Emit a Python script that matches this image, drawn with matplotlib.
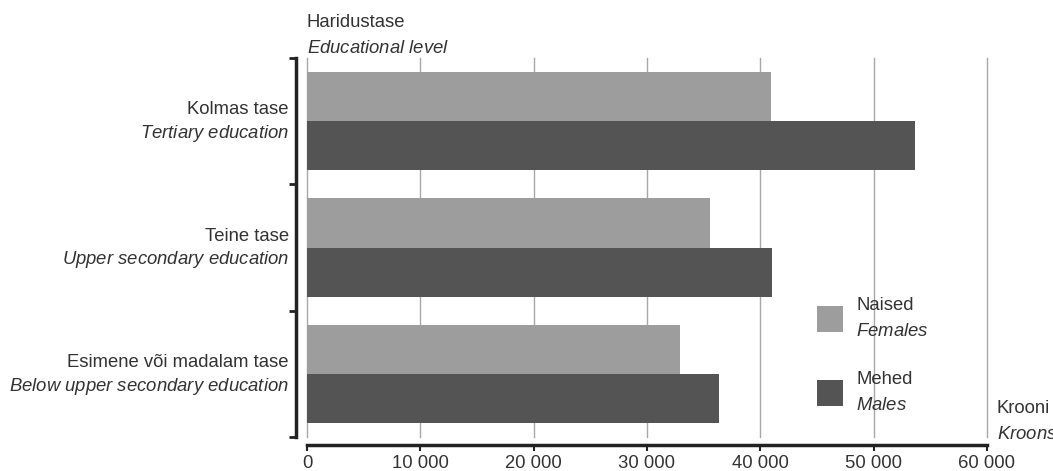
import matplotlib
matplotlib.use("Agg")
import matplotlib.pyplot as plt
from matplotlib.patches import Patch
from matplotlib.ticker import FuncFormatter, FixedLocator
import matplotlib.transforms as mtrans
import numpy as np

plt.rcParams['font.family'] = ['Liberation Sans', 'DejaVu Sans']
plt.rcParams['mathtext.fontset'] = 'custom'
plt.rcParams['mathtext.rm'] = 'Liberation Sans'
plt.rcParams['mathtext.it'] = 'Liberation Sans:italic'

# ---- data ----
cat_et = ["Kolmas tase", "Teine tase", "Esimene või madalam tase"]
cat_en = ["Tertiary education", "Upper secondary education", "Below upper secondary education"]
females = [40950, 35580, 32940]
males = [53690, 41030, 36380]
series_et = ["Naised", "Mehed"]
series_en = ["Females", "Males"]
xticks = [0, 10000, 20000, 30000, 40000, 50000, 60000]

c_f = "#9d9d9d"
c_m = "#545454"
txt = "#333333"
fs = 13.3

W, H = 1053, 471
fig = plt.figure(figsize=(W / 100, H / 100), dpi=100)
L, R, T, B = 307, 987, 58, 437
ax = fig.add_axes([L / W, 1 - B / H, (R - L) / W, (B - T) / H])

# spines first (set_position resets ticks)
for s in ['top', 'right']:
    ax.spines[s].set_visible(False)
ax.spines['left'].set_position(('outward', 8))
ax.spines['bottom'].set_position(('outward', 6))
ax.spines['left'].set_linewidth(2.5)
ax.spines['bottom'].set_linewidth(2.5)
ax.spines['left'].set_color("#222222")
ax.spines['bottom'].set_color("#222222")

def mt(s):
    return r"$\mathit{" + s.replace(" ", r"\ ") + "}$"

y = np.arange(len(cat_et))
bh = 0.39
ax.barh(y - bh / 2, females, height=bh, color=c_f, zorder=2)
ax.barh(y + bh / 2, males, height=bh, color=c_m, zorder=2)

ax.set_xlim(0, 60000)
ax.set_ylim(2.5, -0.5)

# x axis
ax.xaxis.set_major_locator(FixedLocator(xticks))
ax.xaxis.set_major_formatter(FuncFormatter(lambda v, p: f"{int(v):,}".replace(",", " ")))
ax.grid(axis='x', color="#a8a8a8", linewidth=1.0, zorder=0)
ax.set_axisbelow(True)
ax.tick_params(axis='x', direction='out', length=4, width=1.5, color="#222222",
               labelsize=fs, labelcolor=txt, pad=3)
for gl in ax.get_xgridlines():
    gl.set_clip_on(False)

# y axis
ax.set_yticks(y)
ax.set_yticklabels([f"{a}\n{mt(b)}" for a, b in zip(cat_et, cat_en)])
ax.set_yticks(np.arange(-0.5, len(cat_et), 1.0), minor=True)
ax.tick_params(axis='y', which='major', length=0, labelsize=fs, labelcolor=txt, pad=5)
ax.tick_params(axis='y', which='minor', direction='out', length=5, width=2, color="#222222")
shift = mtrans.ScaledTranslation(0, -1.5 / 100, fig.dpi_scale_trans)
for lbl in ax.get_yticklabels():
    lbl.set_linespacing(1.32)
    lbl.set_va('center')
    lbl.set_transform(lbl.get_transform() + shift)

# axis titles
ax.text(0, 1 + 1 / (B - T), "Haridustase\n" + mt("Educational level"), transform=ax.transAxes,
        ha='left', va='bottom', fontsize=fs, color=txt, linespacing=1.7)
ax.text(1 + 10 / (R - L), -6 / (B - T), "Krooni\n" + mt("Kroons"), transform=ax.transAxes,
        ha='left', va='bottom', fontsize=fs, color=txt, linespacing=1.7)

# legend
handles = [Patch(facecolor=c_f), Patch(facecolor=c_m)]
labels = [f"{a}\n{mt(b)}" for a, b in zip(series_et, series_en)]
leg = ax.legend(handles, labels, loc='upper left',
                bbox_to_anchor=((817 - L) / (R - L), (B - 297) / (B - T)),
                frameon=False, fontsize=fs, labelcolor=txt,
                handlelength=1.4, handleheight=1.8, handletextpad=0.72,
                labelspacing=1.65, borderpad=0, borderaxespad=0)
for t in leg.get_texts():
    t.set_linespacing(1.72)

fig.savefig("out.png", dpi=100)
